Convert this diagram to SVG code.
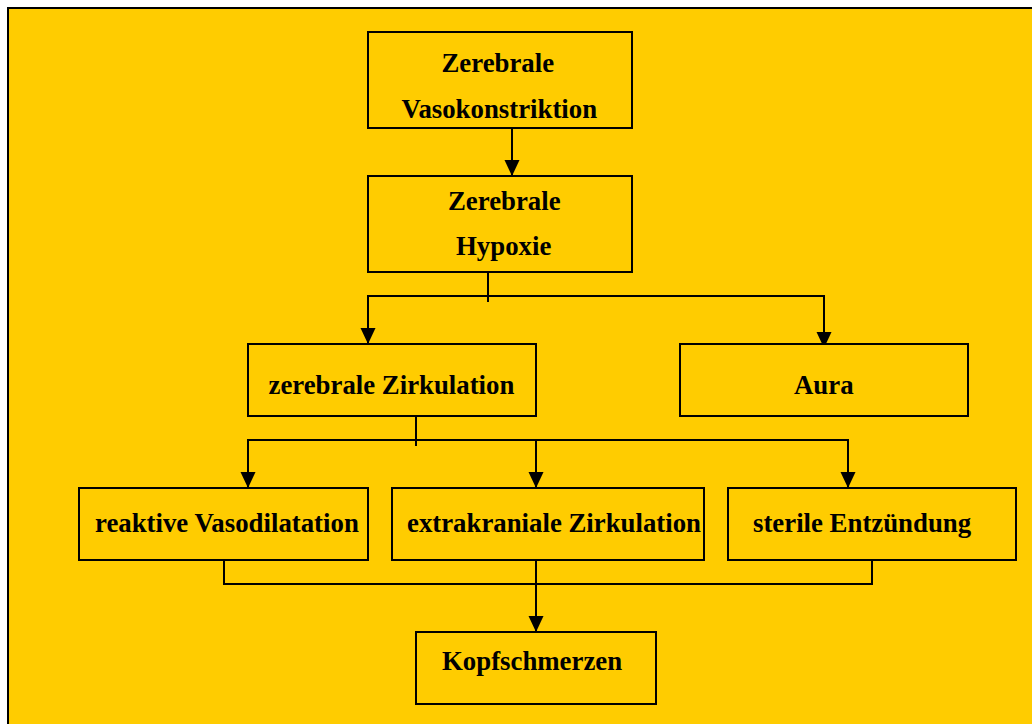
<svg xmlns="http://www.w3.org/2000/svg" width="1032" height="724" viewBox="0 0 1032 724">
<style>
.box{fill:#FFCC00;stroke:#000;stroke-width:2}
.lbl{font-family:"Liberation Serif","Times New Roman",serif;font-weight:bold;font-size:26.8px;fill:#000}
.ln{fill:none;stroke:#000;stroke-width:2}
.ar{fill:none;stroke:#000;stroke-width:2;marker-end:url(#ah)}
</style>
<defs>
<marker id="ah" markerUnits="userSpaceOnUse" markerWidth="16" markerHeight="16" viewBox="0 0 16 16" refX="16" refY="8" orient="auto">
<path d="M0,0.5 L16,8 L0,15.5 Z" fill="#000"/>
</marker>
</defs>
<rect x="0" y="0" width="1032" height="724" fill="#fff"/>
<rect x="8" y="8" width="1040" height="730" fill="#FFCC00" stroke="#000" stroke-width="2"/>
<g id="connectors">
<line class="ar" x1="512" y1="128" x2="512" y2="176"/>
<line class="ln" x1="488" y1="272" x2="488" y2="302"/>
<polyline class="ar" points="488,296 368,296 368,344"/>
<polyline class="ar" points="488,296 824,296 824,348"/>
<line class="ln" x1="416" y1="416" x2="416" y2="446"/>
<polyline class="ar" points="416,440 248,440 248,488"/>
<polyline class="ar" points="416,440 848,440 848,488"/>
<line class="ar" x1="536" y1="440" x2="536" y2="488"/>
<polyline class="ln" points="224,560 224,584 872,584 872,560"/>
<line class="ar" x1="536" y1="560" x2="536" y2="632"/>
</g>
<g id="n1"><rect class="box" x="368" y="32" width="264" height="96"/>
<text class="lbl" x="441.5" y="72">Zerebrale</text>
<text class="lbl" x="401.5" y="117.5">Vasokonstriktion</text></g>
<g id="n2"><rect class="box" x="368" y="176" width="264" height="96"/>
<text class="lbl" x="448" y="210">Zerebrale</text>
<text class="lbl" x="456" y="255">Hypoxie</text></g>
<g id="n3"><rect class="box" x="248" y="344" width="288" height="72"/>
<text class="lbl" x="268.5" y="394">zerebrale Zirkulation</text></g>
<g id="n4"><rect class="box" x="680" y="344" width="288" height="72"/>
<text class="lbl" x="794" y="394">Aura</text></g>
<g id="n5"><rect class="box" x="79" y="488" width="289" height="72"/>
<text class="lbl" x="95" y="532">reaktive Vasodilatation</text></g>
<g id="n6"><rect class="box" x="392" y="488" width="312" height="72"/>
<text class="lbl" x="407" y="532">extrakraniale Zirkulation</text></g>
<g id="n7"><rect class="box" x="728" y="488" width="288" height="72"/>
<text class="lbl" x="753" y="532">sterile Entzündung</text></g>
<g id="n8"><rect class="box" x="416" y="632" width="240" height="72"/>
<text class="lbl" x="442" y="670">Kopfschmerzen</text></g>
</svg>
